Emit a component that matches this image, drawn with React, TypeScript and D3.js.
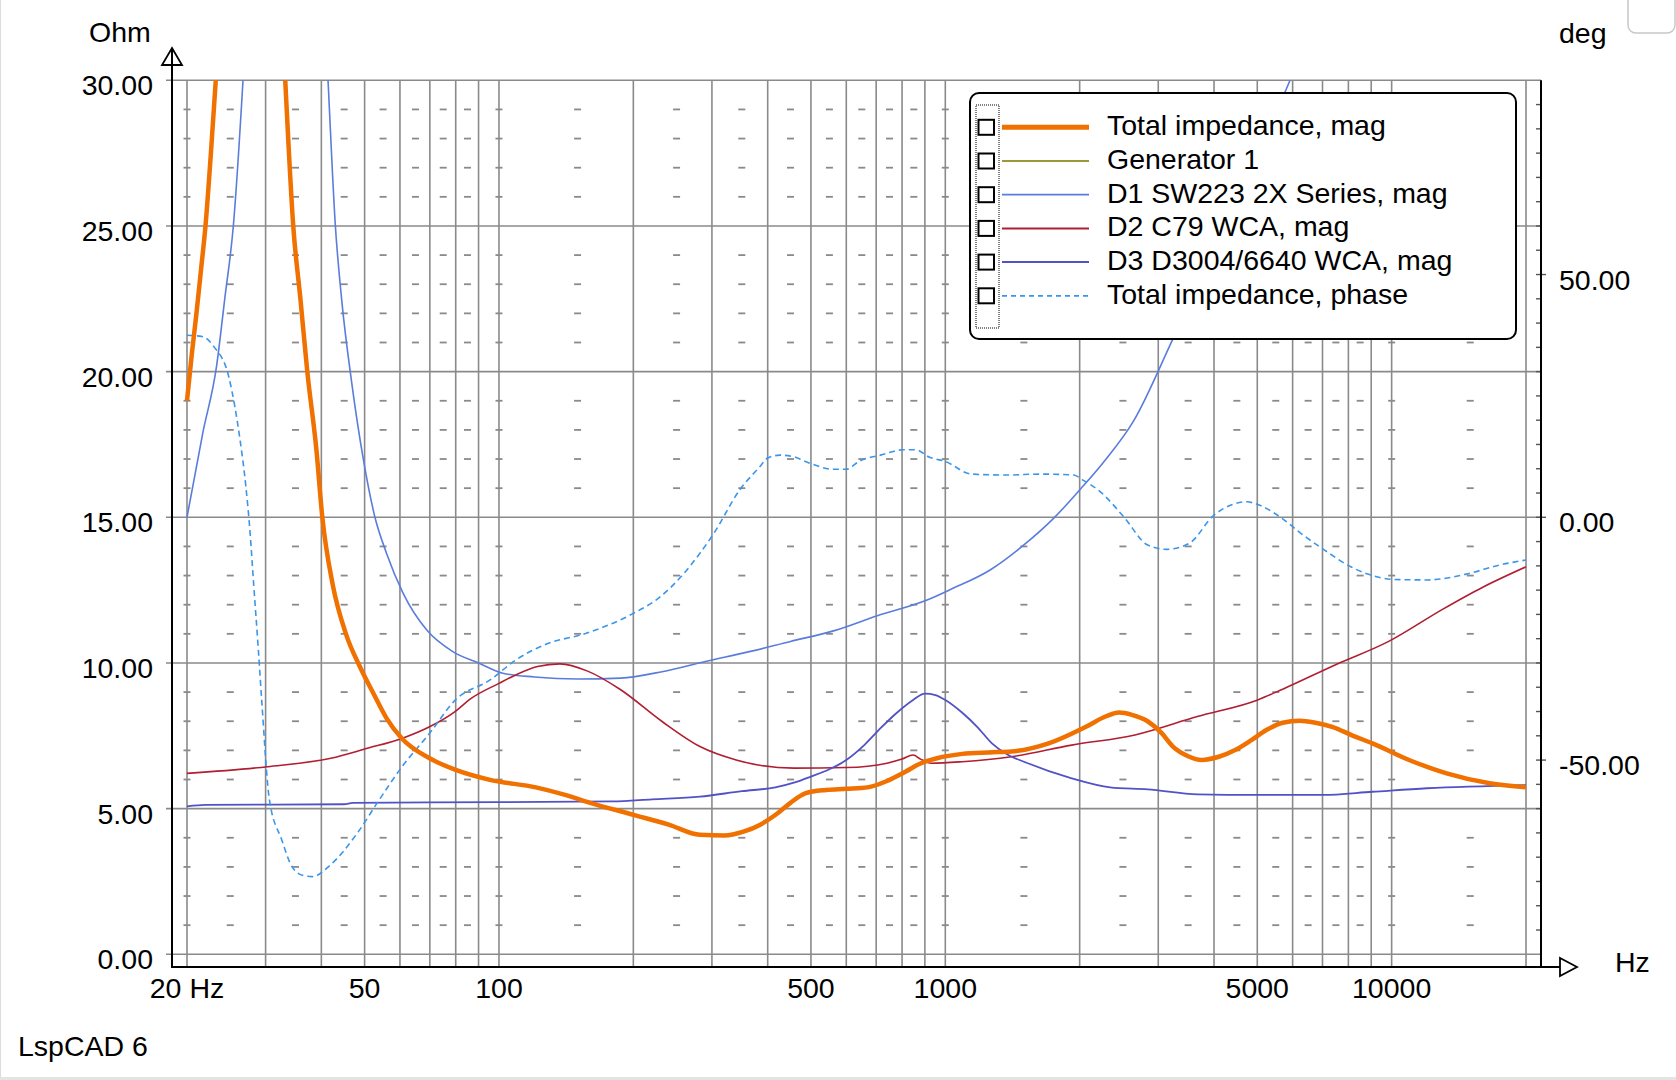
import * as d3 from 'd3';
import React, { useEffect, useRef } from 'react';

type Pt = [number, number]; // [frequency Hz, value]

// x axis labels
const xTickValues = [20, 50, 100, 500, 1000, 5000, 10000];
const xTickLabels = ['20 Hz', '50', '100', '500', '1000', '5000', '10000'];
// left axis (Ohm) and right axis (deg)
const ohmTicks = [0, 5, 10, 15, 20, 25, 30];
const degTicks = [-50, 0, 50];

// Total impedance, mag (Ohm)
const totalMag: Pt[] = [
  [20, 19.0], [20.5, 20.6], [21, 22.0], [21.5, 23.5], [22.0, 25.0], [22.6, 27.4], [23.2, 30.0],
  [24.5, 36], [26, 42], [28, 46], [30, 42], [31.8, 36], [33.2, 30.0], [34.6, 25.0], [35.9, 22.5],
  [37.2, 20.0], [39.0, 17.3], [40.2, 15.0], [42.4, 12.7], [45.4, 11.0], [48.8, 9.87], [52.3, 8.96],
  [56, 8.1], [60.6, 7.41], [69.9, 6.73], [80, 6.33], [96, 5.98], [121, 5.73], [140, 5.48],
  [160, 5.2], [201, 4.78], [240, 4.45], [282, 4.1], [320, 4.08], [353, 4.21], [385, 4.45],
  [416, 4.78], [450, 5.2], [487, 5.53], [540, 5.64], [600, 5.68], [670, 5.73], [740, 5.95],
  [814, 6.27], [880, 6.55], [958, 6.73], [1092, 6.88], [1250, 6.93], [1406, 6.96], [1704, 7.24],
  [2066, 7.81], [2300, 8.18], [2450, 8.3], [2620, 8.22], [2840, 8.0], [3050, 7.6], [3236, 7.13],
  [3500, 6.8], [3750, 6.67], [4100, 6.78], [4460, 7.01], [4850, 7.35], [5240, 7.7], [5700, 7.95],
  [6220, 8.02], [6750, 7.95], [7360, 7.81], [8200, 7.5], [9060, 7.24], [10940, 6.67],
  [13280, 6.21], [16580, 5.87], [20000, 5.73],
];

// D1 SW223 2X Series, mag (Ohm)
const d1Mag: Pt[] = [
  [20, 15.0], [21.7, 17.9], [23.3, 20.2], [24.3, 22.5], [25.4, 25], [26.7, 30], [28, 36], [30, 42],
  [32, 48], [35, 50], [38, 42], [41.4, 30], [43.0, 25], [44.4, 22.5], [46.8, 19.6], [49.7, 16.97],
  [52.7, 15.02], [56, 13.76], [61, 12.39], [68.9, 11.13], [78.8, 10.39], [90.3, 9.99], [102, 9.65],
  [120, 9.52], [150, 9.45], [187, 9.48], [232, 9.7], [290, 10.05], [362, 10.38], [450, 10.74],
  [564, 11.11], [704, 11.62], [910, 12.16], [1030, 12.53], [1260, 13.19], [1500, 14.05],
  [1750, 14.97], [2000, 15.94], [2250, 16.85], [2640, 18.3], [3230, 21.1],
  [4000, 24.2], [5000, 27.5], [5920, 30], [7000, 33],
];

// D2 C79 WCA, mag (Ohm)
const d2Mag: Pt[] = [
  [20, 6.21], [30.3, 6.44], [42, 6.73], [50.7, 7.07], [60.6, 7.41], [69.9, 7.81], [80, 8.35],
  [86, 8.75], [100, 9.3], [109, 9.59], [122, 9.88], [137, 9.97], [158, 9.72], [187, 9.09],
  [232, 7.99], [282, 7.13], [340, 6.67], [458, 6.39], [600, 6.41], [740, 6.56], [800, 6.7],
  [847, 6.84], [880, 6.7], [930, 6.56], [1090, 6.61], [1406, 6.78], [1920, 7.18], [2660, 7.53],
  [3670, 8.16], [5010, 8.73], [5700, 9.1], [7490, 9.94], [9850, 10.74], [13000, 11.84],
  [16000, 12.6], [20000, 13.3],
];

// D3 D3004/6640 WCA, mag (Ohm)
const d3Mag: Pt[] = [
  [20, 5.08], [22, 5.13], [45, 5.15], [47, 5.2], [100, 5.22], [180, 5.25], [220, 5.32], [282, 5.41],
  [350, 5.6], [416, 5.73], [460, 5.9], [500, 6.1], [550, 6.35], [600, 6.67], [660, 7.2], [716, 7.76],
  [780, 8.3], [847, 8.73], [900, 8.95], [950, 8.9], [1000, 8.73], [1090, 8.3], [1180, 7.8],
  [1272, 7.24], [1380, 6.85], [1500, 6.61], [1920, 6.04], [2340, 5.73], [2840, 5.66], [3680, 5.49],
  [5000, 5.47], [7000, 5.47], [9060, 5.58], [12000, 5.7], [20000, 5.81],
];

// Total impedance, phase (deg)
const totalPhase: Pt[] = [
  [20, 37.5], [21.7, 37.2], [23, 35.1], [24.8, 29], [25.6, 22.8], [26.3, 15.9], [27.1, 6.3],
  [27.7, -3.3], [28.2, -13.6], [28.9, -27.3], [29.4, -37.6], [30.6, -58.2], [32.6, -66.4],
  [34.4, -72], [36.5, -73.8], [38.2, -74], [41.9, -71.6], [48.1, -65.1], [53.9, -58.2],
  [60.6, -51.4], [69.9, -44.5], [79.9, -37.6], [95.5, -33.5], [109, -29.4], [127, -26.2],
  [158, -23.8], [198, -20], [229.6, -16.4], [260, -11.5], [282, -7.4], [303, -3.3], [346, 5.6],
  [384, 10.4], [400, 12.2], [426, 12.8], [456, 12.5], [498, 11.1], [560, 9.9], [600, 9.9],
  [643, 11.6], [716, 12.8], [805, 13.9], [860, 13.9], [920, 12.4], [1000, 11.5], [1145, 8.9],
  [1370, 8.7], [1630, 8.9], [1940, 8.7], [2030, 7.7], [2222, 5.3], [2511, 0.1], [2840, -5.7],
  [3130, -6.6], [3528, -5.3], [3983, 0.3], [4420, 2.7], [4740, 3.2], [4990, 2.7], [5640, 0],
  [6260, -3.3], [7060, -6.7], [8100, -10.2], [8840, -11.7], [10150, -12.8], [12000, -12.9],
  [14700, -11.7], [17500, -9.8], [20000, -8.8],
];

const legendLabels = [
  'Total impedance, mag',
  'Generator 1',
  'D1 SW223 2X Series, mag',
  'D2 C79 WCA, mag',
  'D3 D3004/6640 WCA, mag',
  'Total impedance, phase',
];

const FONT = '"Liberation Sans", Arial, sans-serif';

const ImpedanceChart: React.FC = () => {
  const ref = useRef<SVGSVGElement | null>(null);

  useEffect(() => {
    if (!ref.current) return;
    const svg = d3.select(ref.current);
    svg.selectAll('*').remove();

    const left = 172, right = 1541, top = 80.3, bottom = 954.3, axisY = 967;
    const x = d3.scaleLog().domain([20, 20000]).range([187, 1526]);
    const y = d3.scaleLinear().domain([0, 30]).range([bottom, top]);
    const yDeg = d3.scaleLinear().domain([-90, 90]).range([bottom, top]);

    const colors = {
      total: '#f07000',
      gen: '#9a9a3a',
      d1: '#5a7ddc',
      d2: '#b01e32',
      d3: '#5252c6',
      phase: '#3a96ec',
      grid: '#8a8a8a',
    };

    svg.append('rect').attr('width', 1676).attr('height', 1080).attr('fill', '#fff');
    // window frame bits
    svg.append('line').attr('x1', 0.5).attr('x2', 0.5).attr('y1', 0).attr('y2', 1080)
      .attr('stroke', '#dcdcdc').attr('stroke-width', 1);
    svg.append('rect').attr('x', 0).attr('y', 1077).attr('width', 1676).attr('height', 3).attr('fill', '#e4e4e4');
    svg.append('rect').attr('x', 1628).attr('y', -12).attr('width', 47).attr('height', 45).attr('rx', 8)
      .attr('fill', '#fff').attr('stroke', '#c8c8c8').attr('stroke-width', 1.5);

    const grid = svg.append('g');
    // vertical grid
    grid.selectAll('line.v')
      .data(x.ticks())
      .enter()
      .append('line')
      .attr('x1', (d) => x(d)).attr('x2', (d) => x(d))
      .attr('y1', top).attr('y2', axisY)
      .attr('stroke', colors.grid).attr('stroke-width', 1.6);
    // horizontal grid
    grid.selectAll('line.h')
      .data(ohmTicks)
      .enter()
      .append('line')
      .attr('x1', 166).attr('x2', right)
      .attr('y1', (d) => y(d)).attr('y2', (d) => y(d))
      .attr('stroke', colors.grid).attr('stroke-width', 1.6);

    // minor grid dashes
    const dashFreqs: number[] = [20];
    [10, 100, 1000, 10000].forEach((dec) => {
      if (dec > 10) dashFreqs.push(dec);
      for (let k = 1; k <= 8; k++) {
        const f = (k + 0.5) * dec;
        if (f > 20 && f < 20000) dashFreqs.push(f);
      }
    });
    const minorOhm = d3.range(1, 30).filter((v) => v % 5 !== 0);
    minorOhm.forEach((v) => {
      grid.selectAll(null)
        .data(dashFreqs)
        .enter()
        .append('line')
        .attr('x1', (d) => x(d) - 3.5).attr('x2', (d) => x(d) + 3.5)
        .attr('y1', y(v)).attr('y2', y(v))
        .attr('stroke', colors.grid).attr('stroke-width', 1.8);
    });

    // right axis minor ticks
    svg.append('g').selectAll('line')
      .data(d3.range(-85, 90, 5))
      .enter()
      .append('line')
      .attr('x1', right - 5).attr('x2', (d) => (degTicks.includes(d) ? right + 5 : right))
      .attr('y1', (d) => yDeg(d)).attr('y2', (d) => yDeg(d))
      .attr('stroke', '#555').attr('stroke-width', 1.4);

    // curves
    svg.append('defs').append('clipPath').attr('id', 'plot-clip')
      .append('rect').attr('x', left).attr('y', top).attr('width', right - left).attr('height', axisY - top);
    const plot = svg.append('g').attr('clip-path', 'url(#plot-clip)');

    const magLine = d3.line<Pt>().x((d) => x(d[0])).y((d) => y(d[1])).curve(d3.curveMonotoneX);
    const phaseLine = d3.line<Pt>().x((d) => x(d[0])).y((d) => yDeg(d[1])).curve(d3.curveMonotoneX);

    const series: { data: Pt[]; color: string; width: number; phase?: boolean }[] = [
      { data: d1Mag, color: colors.d1, width: 1.6 },
      { data: d2Mag, color: colors.d2, width: 1.6 },
      { data: d3Mag, color: colors.d3, width: 1.8 },
      { data: totalPhase, color: colors.phase, width: 1.6, phase: true },
      { data: totalMag, color: colors.total, width: 4.5 },
    ];
    series.forEach((s) => {
      plot.append('path')
        .attr('d', (s.phase ? phaseLine : magLine)(s.data) ?? '')
        .attr('fill', 'none')
        .attr('stroke', s.color)
        .attr('stroke-width', s.width)
        .attr('stroke-dasharray', s.phase ? '6,4' : null)
        .attr('stroke-linejoin', 'round');
    });

    // axes lines
    const axes = svg.append('g').attr('stroke', '#000').attr('stroke-width', 2).attr('fill', '#fff');
    axes.append('line').attr('x1', left).attr('x2', left).attr('y1', 49).attr('y2', axisY + 1);
    axes.append('line').attr('x1', left - 1).attr('x2', 1562).attr('y1', axisY).attr('y2', axisY);
    axes.append('line').attr('x1', right).attr('x2', right).attr('y1', top).attr('y2', axisY);
    axes.append('path').attr('d', `M${left},48 L${left + 10},65 L${left - 10},65 Z`).attr('stroke-width', 1.8);
    axes.append('line').attr('x1', left).attr('x2', left).attr('y1', 48).attr('y2', 65);
    axes.append('path').attr('d', `M1577,${axisY} L1560,${axisY - 9} L1560,${axisY + 9} Z`).attr('stroke-width', 1.8);

    const text = svg.append('g').attr('font-family', FONT).attr('font-size', 28.5).attr('fill', '#000');

    text.selectAll('text.yl')
      .data(ohmTicks)
      .enter()
      .append('text')
      .attr('x', 153)
      .attr('y', (d) => y(d) + 15)
      .attr('text-anchor', 'end')
      .text((d) => d.toFixed(2));

    text.selectAll('text.yr')
      .data(degTicks)
      .enter()
      .append('text')
      .attr('x', 1559)
      .attr('y', (d) => yDeg(d) + 15)
      .text((d) => d.toFixed(2));

    text.selectAll('text.xl')
      .data(xTickValues)
      .enter()
      .append('text')
      .attr('x', (d) => x(d))
      .attr('y', 998)
      .attr('text-anchor', 'middle')
      .text((_d, i) => xTickLabels[i]);

    text.append('text').attr('x', 89).attr('y', 42).text('Ohm');
    text.append('text').attr('x', 1559).attr('y', 43).text('deg');
    text.append('text').attr('x', 1615).attr('y', 972).text('Hz');
    text.append('text').attr('x', 18).attr('y', 1056).text('LspCAD 6');

    // legend
    const legend = svg.append('g');
    legend.append('rect')
      .attr('x', 970).attr('y', 93).attr('width', 546).attr('height', 246).attr('rx', 9)
      .attr('fill', '#fff').attr('stroke', '#000').attr('stroke-width', 2);
    legend.append('rect')
      .attr('x', 976).attr('y', 105).attr('width', 23).attr('height', 223)
      .attr('fill', 'none').attr('stroke', '#000').attr('stroke-width', 1).attr('stroke-dasharray', '1,1');

    const legendStyles = [
      { color: colors.total, width: 5, dash: null as string | null },
      { color: colors.gen, width: 1.8, dash: null },
      { color: colors.d1, width: 1.8, dash: null },
      { color: colors.d2, width: 2, dash: null },
      { color: colors.d3, width: 2, dash: null },
      { color: colors.phase, width: 1.8, dash: '5,4' },
    ];

    legendLabels.forEach((label, i) => {
      const cy = 127.3 + i * 33.7;
      const row = legend.append('g');
      row.append('rect')
        .attr('x', 978.5).attr('y', cy - 7.5).attr('width', 15.5).attr('height', 15)
        .attr('fill', '#fff').attr('stroke', '#000').attr('stroke-width', 2);
      row.append('line')
        .attr('x1', 1002).attr('x2', 1089).attr('y1', cy).attr('y2', cy)
        .attr('stroke', legendStyles[i].color).attr('stroke-width', legendStyles[i].width)
        .attr('stroke-dasharray', legendStyles[i].dash);
      row.append('text')
        .attr('x', 1107).attr('y', cy + 8)
        .attr('font-family', FONT).attr('font-size', 28.5)
        .text(label);
    });
  }, []);

  return <svg ref={ref} width={1676} height={1080} style={{ position: 'absolute', left: 0, top: 0 }} />;
};

export default function App() {
  return <ImpedanceChart />;
}
